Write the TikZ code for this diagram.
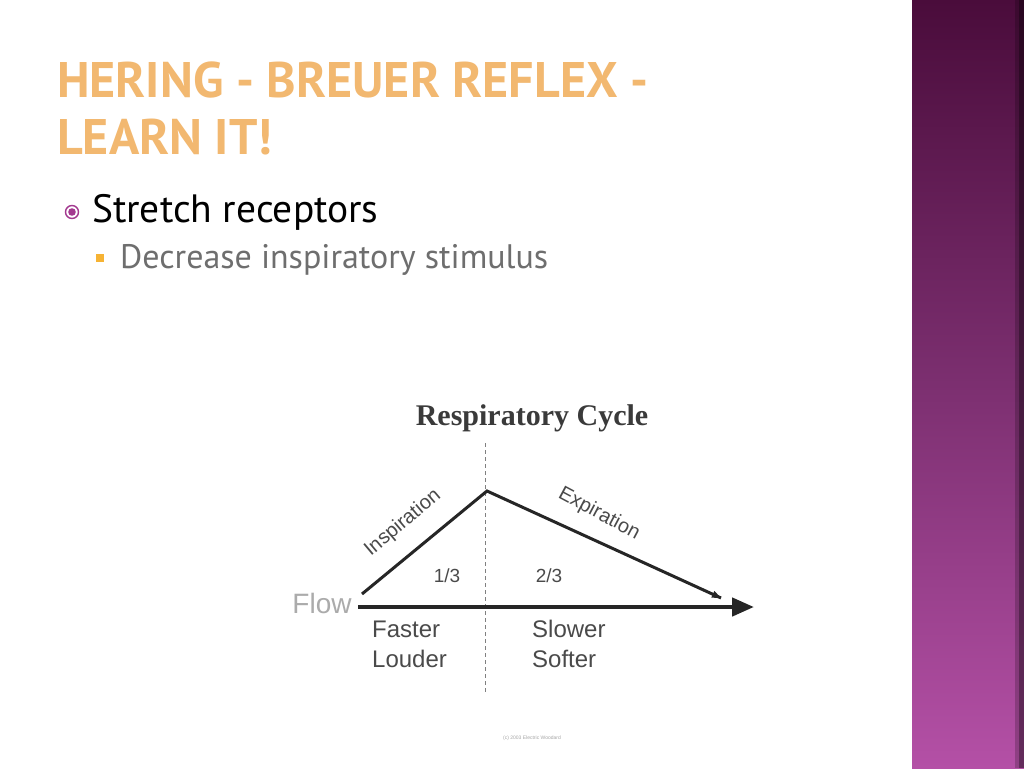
\documentclass[tikz,border=0pt]{standalone}
\usepackage{fontspec}
\setmainfont{Liberation Sans}
\newfontfamily\titlefont{PT Sans}
\newfontfamily\bodyfont{PT Sans}
\newfontfamily\seriffont{Liberation Serif}
\usetikzlibrary{arrows.meta,calc}
\definecolor{titleorange}{HTML}{F2B870}
\definecolor{bulletpurple}{HTML}{A3398F}
\definecolor{subgray}{HTML}{6E6E6E}
\definecolor{squareorange}{HTML}{F6B334}
\definecolor{diagdark}{HTML}{3A3A3A}
\definecolor{diaggray}{HTML}{4A4A4A}
\definecolor{flowgray}{HTML}{ABABAB}
\definecolor{sidetop}{HTML}{4A0C3B}
\definecolor{sidemid}{HTML}{7C2F70}
\definecolor{sidebot}{HTML}{B450A6}
\tikzset{
  dlabel/.style={font=\fontsize{24}{24}\selectfont, text=diaggray, inner sep=0pt},
  slabel/.style={font=\fontsize{19}{19}\selectfont, text=diaggray, inner sep=0pt},
  rlabel/.style={font=\fontsize{20}{20}\selectfont, text=diaggray, inner sep=0pt},
  curve/.style={draw=black!85, line width=3pt},
}
\begin{document}
\begin{tikzpicture}[x=1pt,y=-1pt]
\useasboundingbox (0,0) rectangle (1024,768);
\fill[white] (0,0) rectangle (1024,768);
% sidebar
\shade[top color=sidetop, bottom color=sidebot, middle color=sidemid] (912,0) rectangle (1024,768);
\fill[black, opacity=0.2] (1015,0) rectangle (1024,768);
\fill[black, opacity=0.3] (1019,0) rectangle (1024,768);
% title
\node[anchor=base west, inner sep=0pt, text=titleorange] (t1) at (57,97)
  {\titlefont\bfseries\fontsize{50}{50}\selectfont HERING - BREUER REFLEX -};
\node[anchor=base west, inner sep=0pt, text=titleorange] (t2) at (57,154)
  {\titlefont\bfseries\fontsize{50}{50}\selectfont LEARN IT!};
% bullets
\draw[bulletpurple, line width=1.4pt, fill=white] (72,212) circle (6.5);
\fill[bulletpurple] (72,212) circle (3.8);
\node[anchor=base west, inner sep=0pt] (b1) at (92,222)
  {\bodyfont\fontsize{39.5}{39.5}\selectfont Stretch receptors};
\fill[squareorange] (96,254) rectangle (104,262);
\node[anchor=base west, inner sep=0pt, text=subgray] (b2) at (120,268)
  {\bodyfont\fontsize{34}{34}\selectfont Decrease inspiratory stimulus};
% diagram
\node[inner sep=0pt, text=diagdark] (rc) at (532,418)
  {\seriffont\bfseries\fontsize{30}{30}\selectfont Respiratory Cycle};
\coordinate (vtop) at (485,443);
\coordinate (vbot) at (485,693);
\draw[gray, line width=1pt, dash pattern=on 4pt off 3pt] (vtop) -- (vbot);
\coordinate (start) at (358,607);
\coordinate (axend) at (754,607);
\draw[black!85, line width=4.5pt, -{Triangle[length=22pt,width=18pt]}] (start) -- (axend);
\coordinate (i0) at (362,594);
\coordinate (peak) at (487,491);
\coordinate (e1) at (721,598);
\draw[curve, line join=miter] (i0) -- (peak) -- (e1);
\draw[black!85, line width=1.5pt, -{Triangle[length=9pt,width=7pt]}] ($(peak)!0.9!(e1)$) -- (e1);
\node[inner sep=0pt, text=flowgray] (flow) at (322,603)
  {\fontsize{28}{28}\selectfont Flow};
\node[rlabel, rotate=40] (insp) at (403,523) {Inspiration};
\node[rlabel, rotate=-28] (exp) at (599,514) {Expiration};
\node[slabel] (f13) at (447,576) {1/3};
\node[slabel] (f23) at (549,576) {2/3};
\node[dlabel, anchor=west] (fast) at (372,629) {Faster};
\node[dlabel, anchor=west] (loud) at (372,659) {Louder};
\node[dlabel, anchor=west] (slow) at (532,629) {Slower};
\node[dlabel, anchor=west] (soft) at (532,659) {Softer};
\node[inner sep=0pt, text=gray!70, font=\fontsize{5}{5}\selectfont] (copy) at (532,738) {(c) 2003 Electric Woodard};
\end{tikzpicture}
\end{document}
